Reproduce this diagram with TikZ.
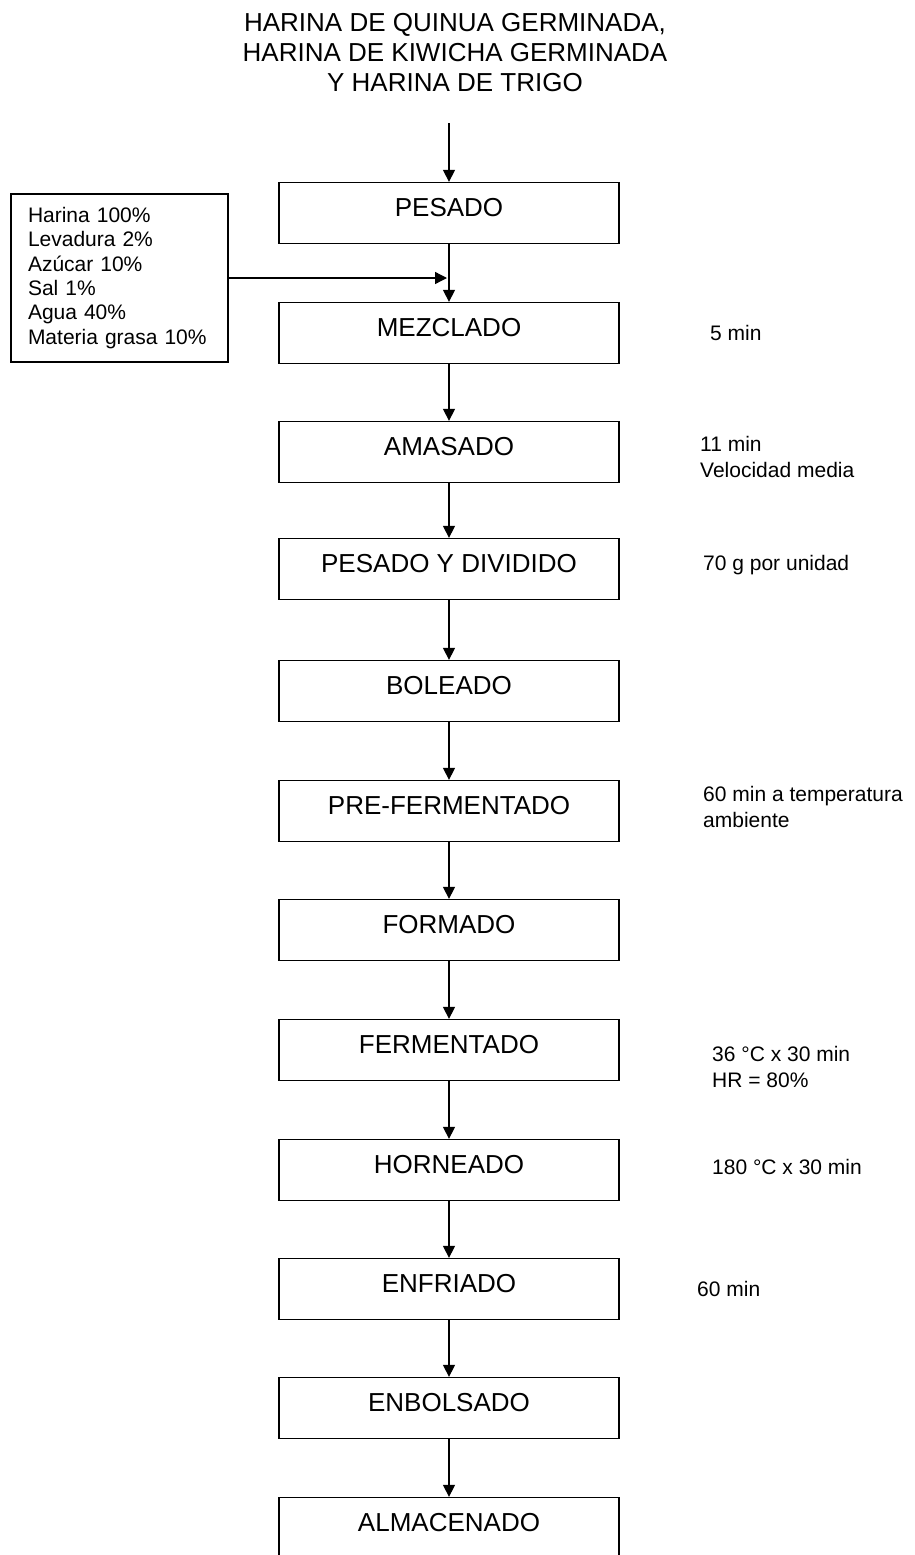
\documentclass[tikz,border=0pt]{standalone}
\usepackage{fontspec}
\setmainfont{Liberation Sans}
\usepackage{tikz}
\usetikzlibrary{calc,positioning}
\usetikzlibrary{arrows.meta}
\tikzset{>={Triangle[width=12pt,length=12pt]}}

\begin{document}
\begin{tikzpicture}[x=1pt,y=-1pt]
        \tikzstyle{pnode} = [draw=black, line width=1.3pt, rectangle, minimum width=340pt, minimum height=61pt, inner sep=0pt, text height=19pt, text depth=12pt, font=\fontsize{26}{30}\selectfont]
        \tikzstyle{inode} = [draw=black, line width=1.3pt, rectangle, text width=183pt, inner xsep=17pt, inner ysep=0pt, minimum height=168pt, align=left, font=\fontsize{21}{24.3}\selectfont]
        \tikzstyle{nnote} = [anchor=base west, align=left, inner sep=0pt, font=\fontsize{21}{26.5}\selectfont]
        \useasboundingbox (0,0) rectangle (914,1555);

        \node[align=center, font=\fontsize{26}{30}\selectfont] (title) at (455,53) {HARINA DE QUINUA GERMINADA,\\HARINA DE KIWICHA GERMINADA\\Y HARINA DE TRIGO};
        \coordinate (tstart) at (449,123);

        \node[pnode] (pesado) at (449,213) {PESADO};
        \node[pnode] (mezclado) at (449,333) {MEZCLADO};
        \node[pnode] (amasado) at (449,452) {AMASADO};
        \node[pnode] (dividido) at (449,569) {PESADO Y DIVIDIDO};
        \node[pnode] (boleado) at (449,691) {BOLEADO};
        \node[pnode] (prefer) at (449,811) {PRE-FERMENTADO};
        \node[pnode] (formado) at (449,930) {FORMADO};
        \node[pnode] (fermentado) at (449,1050) {FERMENTADO};
        \node[pnode] (horneado) at (449,1170) {HORNEADO};
        \node[pnode] (enfriado) at (449,1289) {ENFRIADO};
        \node[pnode] (enbolsado) at (449,1408) {ENBOLSADO};
        \node[pnode] (almacenado) at (449,1528) {ALMACENADO};

        \node[inode] (ingr) at (119.5,278) {Harina 100\%\\Levadura 2\%\\Azúcar 10\%\\Sal 1\%\\Agua 40\%\\Materia grasa 10\%};
        \coordinate (junc) at (447,278);

        \node[nnote] (n5) at (710,340.5) {5 min};
        \node[nnote] (n11) at (700,477.5) {11 min\\Velocidad media};
        \node[nnote] (n70) at (703,570.5) {70 g por unidad};
        \node[nnote] (n60a) at (703,827.5) {60 min a temperatura\\ambiente};
        \node[nnote] (n36) at (712,1087.5) {36 °C x 30 min\\HR = 80\%};
        \node[nnote] (n180) at (712,1174.5) {180 °C x 30 min};
        \node[nnote] (n60b) at (697,1296.5) {60 min};

        \path[draw, line width=1.3pt]
        (tstart) edge[->] node {} (pesado)
        (pesado) edge[->] node {} (mezclado)
        (ingr) edge[->] node {} (junc)
        (mezclado) edge[->] node {} (amasado)
        (amasado) edge[->] node {} (dividido)
        (dividido) edge[->] node {} (boleado)
        (boleado) edge[->] node {} (prefer)
        (prefer) edge[->] node {} (formado)
        (formado) edge[->] node {} (fermentado)
        (fermentado) edge[->] node {} (horneado)
        (horneado) edge[->] node {} (enfriado)
        (enfriado) edge[->] node {} (enbolsado)
        (enbolsado) edge[->] node {} (almacenado)
        ;
\end{tikzpicture}
\end{document}
